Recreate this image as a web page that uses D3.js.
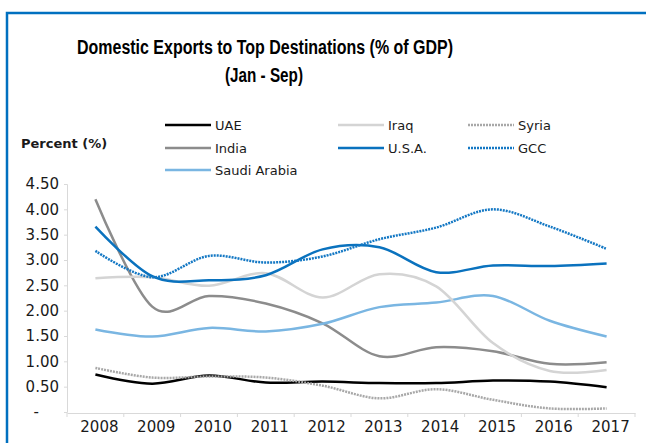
<!DOCTYPE html>
<html>
<head>
<meta charset="utf-8">
<script src="https://cdn.jsdelivr.net/npm/d3@7"></script>
<style>
  body { margin: 0; background: #fff; }
  text { font-family: "DejaVu Sans", sans-serif; fill: #1a1a1a; }
</style>
</head>
<body>
<div id="chart"></div>
<script>
// data
var years = ["2008","2009","2010","2011","2012","2013","2014","2015","2016","2017"]
var uae    = [0.74, 0.56, 0.72, 0.58, 0.60, 0.57, 0.57, 0.62, 0.60, 0.49]
var india  = [4.20, 2.08, 2.29, 2.14, 1.75, 1.10, 1.28, 1.20, 0.95, 0.98]
var saudi  = [1.63, 1.49, 1.66, 1.59, 1.74, 2.07, 2.16, 2.29, 1.80, 1.49]
var iraq   = [2.64, 2.66, 2.49, 2.74, 2.26, 2.72, 2.48, 1.36, 0.81, 0.83]
var usa    = [3.66, 2.68, 2.60, 2.70, 3.21, 3.25, 2.76, 2.89, 2.88, 2.93]
var syria  = [0.87, 0.68, 0.70, 0.68, 0.52, 0.27, 0.45, 0.24, 0.07, 0.07]
var gcc    = [3.18, 2.66, 3.08, 2.95, 3.07, 3.41, 3.64, 4.00, 3.66, 3.22]
var yTicks = [0, 0.5, 1, 1.5, 2, 2.5, 3, 3.5, 4, 4.5]

var series = [
  {name: "UAE", values: uae, color: "#000000", dash: null},
  {name: "India", values: india, color: "#8c8c8c", dash: null},
  {name: "Saudi Arabia", values: saudi, color: "#7ab6e2", dash: null},
  {name: "Iraq", values: iraq, color: "#d4d4d4", dash: null},
  {name: "U.S.A.", values: usa, color: "#0a72be", dash: null},
  {name: "Syria", values: syria, color: "#a8a8a8", dash: "2,1"},
  {name: "GCC", values: gcc, color: "#1478c4", dash: "2,1"}
]

var W = 646, H = 443
var svg = d3.select("#chart").append("svg")
    .attr("width", W)
    .attr("height", H)

// blue frame
svg.append("path")
    .attr("d", "M7,443 V13 H646")
    .attr("fill", "none")
    .attr("stroke", "#0070c0")
    .attr("stroke-width", 2.5)

// title (squeezed to the narrow width of the original font)
svg.append("text")
    .attr("x", 77).attr("y", 54)
    .attr("textLength", 376)
    .attr("lengthAdjust", "spacingAndGlyphs")
    .style("font-family", "'Liberation Sans', sans-serif")
    .style("font-weight", "bold")
    .style("font-size", "20px")
    .style("fill", "#000")
    .text("Domestic Exports to Top Destinations (% of GDP)")
svg.append("text")
    .attr("x", 225).attr("y", 82)
    .attr("textLength", 78)
    .attr("lengthAdjust", "spacingAndGlyphs")
    .style("font-family", "'Liberation Sans', sans-serif")
    .style("font-weight", "bold")
    .style("font-size", "20px")
    .style("fill", "#000")
    .text("(Jan - Sep)")

svg.append("text")
    .attr("x", 21).attr("y", 148)
    .style("font-weight", "bold")
    .style("font-size", "13px")
    .text("Percent (%)")

// scales
var x = d3.scaleBand().domain(years).range([67, 635])
var y = d3.scaleLinear().domain([0, 4.5]).range([412, 184])

// y axis
var yAxis = svg.append("g")
    .attr("transform", "translate(67,0)")
    .call(d3.axisLeft(y).tickValues(yTicks).tickSize(3).tickPadding(5)
      .tickFormat(function(d) { return d === 0 ? "-" : d3.format(".2f")(d) }))
yAxis.select(".domain").attr("stroke", "#d9d9d9")
yAxis.selectAll(".tick line").attr("stroke", "#d9d9d9")
yAxis.selectAll(".tick text")
    .style("font-size", "15px")
    .style("font-family", "'DejaVu Sans', sans-serif")
    .attr("fill", "#1a1a1a")
    .attr("dx", function(d) { return d === 0 ? -20 : 0 })

// x axis
var xAxis = svg.append("g")
    .attr("transform", "translate(0,413)")
    .call(d3.axisBottom(x).tickSize(0).tickPadding(8))
xAxis.select(".domain").attr("stroke", "#d9d9d9")
xAxis.selectAll(".tick text")
    .style("font-size", "15px")
    .style("font-family", "'DejaVu Sans', sans-serif")
    .attr("fill", "#1a1a1a")
    .attr("dx", 4)
// tick marks between categories
xAxis.selectAll(".sep")
    .data(years.concat(["end"]))
    .enter().append("line")
    .attr("class", "sep")
    .attr("x1", function(d, i) { return 67 + i * x.bandwidth() })
    .attr("x2", function(d, i) { return 67 + i * x.bandwidth() })
    .attr("y1", 0).attr("y2", 4)
    .attr("stroke", "#d9d9d9")

// lines
var line = d3.line()
    .x(function(d, i) { return x(years[i]) + x.bandwidth() / 2 })
    .y(function(d) { return y(d) })
    .curve(d3.curveCardinal.tension(0))

svg.selectAll(".series")
    .data(series)
    .enter().append("path")
    .attr("class", "series")
    .attr("d", function(d) { return line(d.values) })
    .attr("fill", "none")
    .attr("stroke", function(d) { return d.color })
    .attr("stroke-width", 2.5)
    .attr("stroke-dasharray", function(d) { return d.dash })

// legend
var legendPos = [
  {name: "UAE", x: 165, y: 125},
  {name: "India", x: 165, y: 148},
  {name: "Saudi Arabia", x: 165, y: 170},
  {name: "Iraq", x: 338, y: 125},
  {name: "U.S.A.", x: 338, y: 148},
  {name: "Syria", x: 468, y: 125},
  {name: "GCC", x: 468, y: 148}
]
var leg = svg.selectAll(".leg")
    .data(legendPos)
    .enter().append("g")
    .attr("class", "leg")
    .attr("transform", function(d) { return "translate(" + d.x + "," + d.y + ")" })
leg.append("line")
    .attr("x1", 0).attr("x2", 46)
    .attr("stroke", function(d) { return series.find(function(s) { return s.name == d.name }).color })
    .attr("stroke-dasharray", function(d) { return series.find(function(s) { return s.name == d.name }).dash })
    .attr("stroke-width", 2.5)
leg.append("text")
    .attr("x", 50).attr("dy", "0.35em")
    .style("font-size", "13px")
    .text(function(d) { return d.name })
</script>
</body>
</html>
